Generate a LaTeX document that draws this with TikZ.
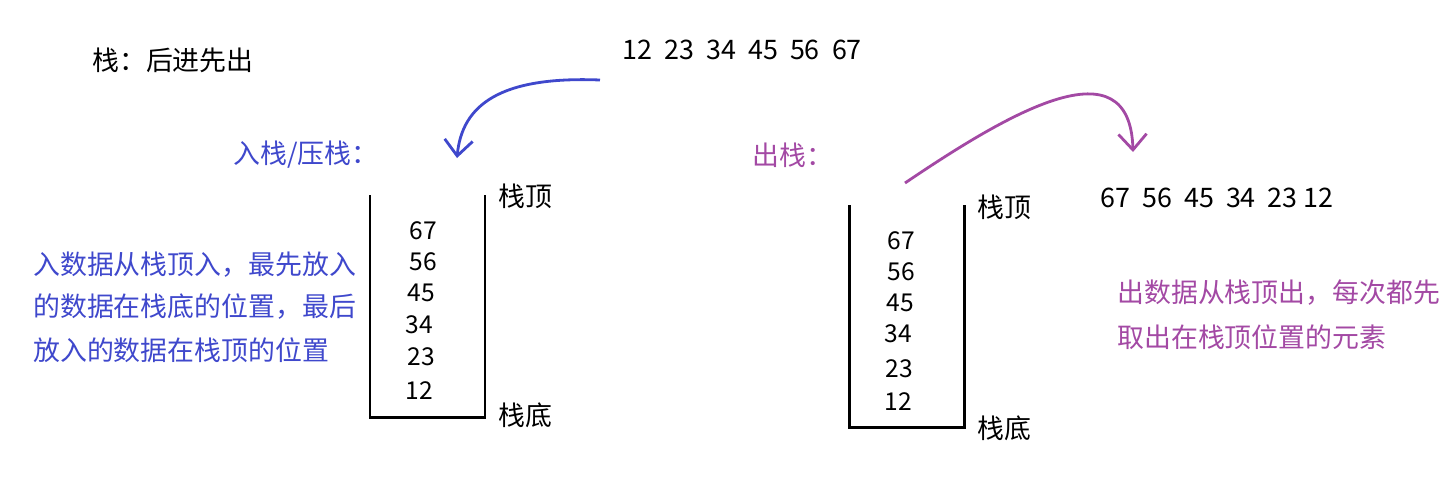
\documentclass[tikz,border=0pt]{standalone}
\usepackage{fontspec}
\setmainfont{Noto Sans CJK SC}
\usepackage{tikz}
\usetikzlibrary{arrows.meta}
\usepackage{xcolor}
\definecolor{pushblue}{HTML}{3F48CC}
\definecolor{poppurple}{HTML}{A349A4}

\tikzset{
  txt/.style={anchor=west, inner sep=0pt, font=\fontsize{15.3}{18}\selectfont},
  num/.style={inner sep=0pt, font=\fontsize{14}{16}\selectfont},
  wall/.style={line width=1.7pt},
  curl/.style={line width=1.6pt, -{Straight Barb[length=9pt,width=16pt]}}
}

\begin{document}
\begin{tikzpicture}[x=0.02cm, y=-0.02cm]
    \useasboundingbox (0,0) rectangle (1454,485);
    % titles
    \node[txt] (title) at (92,60) {栈：后进先出};
    \node[txt] (seq) at (622,50) {12\hspace{0.45em}23\hspace{0.45em}34\hspace{0.45em}45\hspace{0.45em}56\hspace{0.45em}67};
    \node[txt, text=pushblue] (pushlbl) at (233,155) {入栈/压栈：};
    \node[txt, text=poppurple] (poplbl) at (752,155) {出栈：};

    % push side
    \coordinate (pushfrom) at (600,80);
    \coordinate (pushto) at (457,158);
    \draw[curl, pushblue] (pushfrom) .. controls (500,76) and (462,105) .. (pushto);
    \draw[wall] (370,195) -- (370,417) -- (485,417) -- (485,195);
    \node[txt] (ltop) at (498,196) {栈顶};
    \node[txt] (lbot) at (498,415) {栈底};
    \node[num] (l67) at (423,231) {67};
    \node[num] (l56) at (423,262) {56};
    \node[num] (l45) at (421,293) {45};
    \node[num] (l34) at (419,325) {34};
    \node[num] (l23) at (421,357) {23};
    \node[num] (l12) at (419,391) {12};
    \node[txt, text=pushblue] (pushnote1) at (33,265) {入数据从栈顶入，最先放入};
    \node[txt, text=pushblue] (pushnote2) at (33,307) {的数据在栈底的位置，最后};
    \node[txt, text=pushblue] (pushnote3) at (33,350) {放入的数据在栈顶的位置};

    % pop side
    \coordinate (popfrom) at (905,183);
    \coordinate (popto) at (1133,152);
    \draw[curl, poppurple] (popfrom) .. controls (1010,112) and (1130,42) .. (popto);
    \draw[wall] (849,205) -- (849,427) -- (964,427) -- (964,205);
    \node[txt] (rtop) at (977,207) {栈顶};
    \node[txt] (rbot) at (977,428) {栈底};
    \node[num] (r67) at (901,241) {67};
    \node[num] (r56) at (901,272) {56};
    \node[num] (r45) at (900,303) {45};
    \node[num] (r34) at (898,334) {34};
    \node[num] (r23) at (899,369) {23};
    \node[num] (r12) at (898,402) {12};
    \node[txt] (popseq) at (1100,198) {67\ \ 56\ \ 45\ \ 34\ \ 23 12};
    \node[txt, text=poppurple] (popnote1) at (1117,293) {出数据从栈顶出，每次都先};
    \node[txt, text=poppurple] (popnote2) at (1117,337) {取出在栈顶位置的元素};
\end{tikzpicture}
\end{document}
